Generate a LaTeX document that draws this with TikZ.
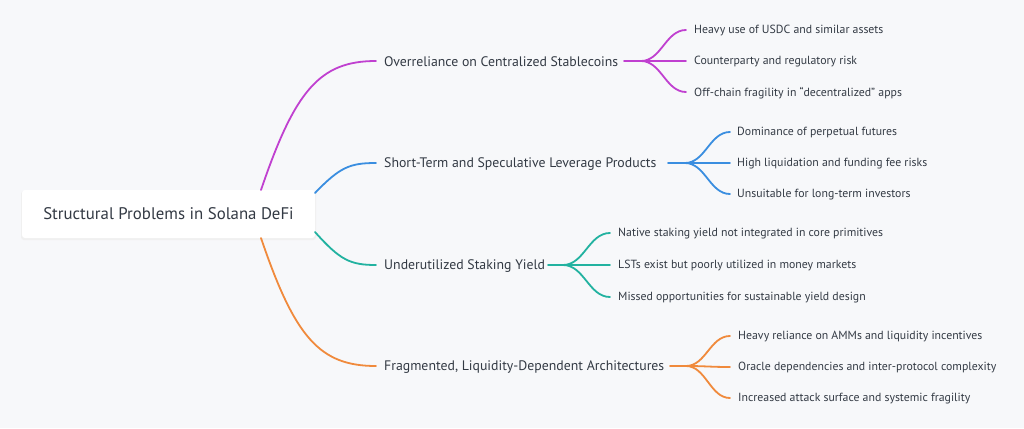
\documentclass[tikz,border=0pt]{standalone}
\usepackage{fontspec}
\setmainfont{PT Sans}
\usetikzlibrary{calc}
\definecolor{bg}{HTML}{F7F8FA}
\definecolor{txt}{HTML}{333A44}
\definecolor{cP}{HTML}{C040D0}
\definecolor{cB}{HTML}{3A8EE0}
\definecolor{cT}{HTML}{22B2A0}
\definecolor{cO}{HTML}{F08A3C}
\tikzset{
 br/.style={anchor=west,inner sep=0pt,text=txt,font=\fontsize{13.8}{16}\selectfont},
 lf/.style={anchor=west,inner sep=0pt,text=txt,font=\fontsize{11.8}{14}\selectfont},
 ln/.style={line width=1.8pt,line cap=round}
}
\begin{document}
\begin{tikzpicture}[x=1pt,y=-1pt]
\fill[bg] (0,0) rectangle (1024,428);
\useasboundingbox (0,0) rectangle (1024,428);
\fill[black!6,rounded corners=3pt] (21,191) rectangle (316,240);
\node[fill=white,rounded corners=3pt,minimum width=293pt,minimum height=48pt,inner sep=0pt,text=txt,font=\fontsize{16.8}{20}\selectfont] (root) at (168.5,214) {Structural Problems in Solana DeFi};
% branches
\node[br] (b1) at (384,62) {Overreliance on Centralized Stablecoins};
\node[br] (b2) at (384,164) {Short-Term and Speculative Leverage Products};
\node[br] (b3) at (384,266) {Underutilized Staking Yield};
\node[br] (b4) at (384,367) {Fragmented, Liquidity-Dependent Architectures};
\coordinate (r1) at (261,190);\coordinate (r2) at (315,193);
\coordinate (r3) at (315,232);\coordinate (r4) at (261,238);
\draw[ln,cP] (r1) .. controls (295,90) and (320,61) .. ([xshift=-8pt,yshift=1pt]b1.west);
\draw[ln,cB] (r2) .. controls (340,167) and (350,163) .. ([xshift=-8pt,yshift=1pt]b2.west);
\draw[ln,cT] (r3) .. controls (340,260) and (350,265) .. ([xshift=-8pt,yshift=1pt]b3.west);
\draw[ln,cO] (r4) .. controls (295,338) and (320,366) .. ([xshift=-8pt,yshift=1pt]b4.west);
% leaves
\node[lf] (l11) at (694,31) {Heavy use of USDC and similar assets};
\node[lf] (l12) at (694,62) {Counterparty and regulatory risk};
\node[lf] (l13) at (694,93) {Off-chain fragility in “decentralized” apps};
\node[lf] (l21) at (737,133) {Dominance of perpetual futures};
\node[lf] (l22) at (737,164) {High liquidation and funding fee risks};
\node[lf] (l23) at (737,195) {Unsuitable for long-term investors};
\node[lf] (l31) at (618,234) {Native staking yield not integrated in core primitives};
\node[lf] (l32) at (618,266) {LSTs exist but poorly utilized in money markets};
\node[lf] (l33) at (618,298) {Missed opportunities for sustainable yield design};
\node[lf] (l41) at (738,337) {Heavy reliance on AMMs and liquidity incentives};
\node[lf] (l42) at (738,368) {Oracle dependencies and inter-protocol complexity};
\node[lf] (l43) at (738,399) {Increased attack surface and systemic fragility};
% forks
\foreach \c/\b/\s/\j/\e/\la/\lb/\lc in {cP/b1/624/641/686/l11/l12/l13, cB/b2/668/685/730/l21/l22/l23, cT/b3/548/563/610/l31/l32/l33, cO/b4/670/686/730/l41/l42/l43}{
 \coordinate (s) at ([yshift=1pt]\s,0 |- \b.west);
 \coordinate (j) at ([yshift=1pt]\j,0 |- \b.west);
 \draw[ln,\c] (s) -- (j);
 \foreach \l in {\la,\lb,\lc}{
  \coordinate (e) at ([yshift=1pt]\e,0 |- \l.west);
  \draw[ln,\c] (j) .. controls ($(j)!0.45!(j-|e)$) and ($(e)!0.45!(e-|j)$) .. (e);
 }
}
\end{tikzpicture}
\end{document}
